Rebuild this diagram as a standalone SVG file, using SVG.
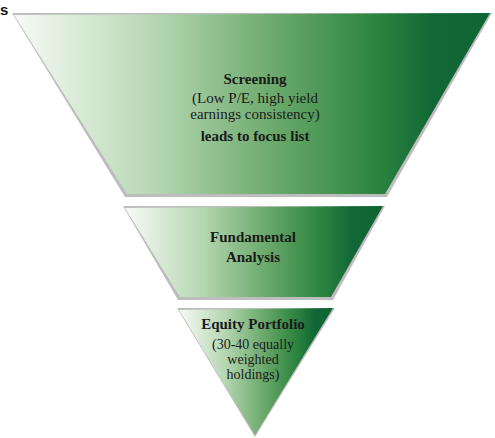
<svg xmlns="http://www.w3.org/2000/svg" width="495" height="438" viewBox="0 0 495 438">
<defs>
<linearGradient id="g" x1="0" y1="0" x2="1" y2="0">
<stop offset="0" stop-color="#f7fbf6"/>
<stop offset="0.3" stop-color="#b5d6b1"/>
<stop offset="0.55" stop-color="#6aa96b"/>
<stop offset="0.75" stop-color="#2f8640"/>
<stop offset="0.88" stop-color="#116836"/>
<stop offset="1" stop-color="#0f6434"/>
</linearGradient>
</defs>
<style>
.shadow{fill:#bdbdbd}
.shape{fill:url(#g)}
.t{font-family:"Liberation Serif","Times New Roman",serif;font-size:15px;fill:#1a1a1a;text-anchor:middle}
.s{font-size:14px}
.b{font-weight:bold}
</style>
<text x="0" y="15" font-family="Liberation Sans, Arial, sans-serif" font-weight="bold" font-size="15" fill="#111">s</text>
<g id="screening">
<polygon class="shadow" points="12,13 492,13 387,197 125,197"/>
<polygon class="shape" points="14,15 490,13 385,194 127,194"/>
<text class="t b" x="255" y="84">Screening</text>
<text class="t" x="255" y="103">(Low P/E, high yield</text>
<text class="t" x="255" y="119">earnings consistency)</text>
<text class="t b" x="255" y="141">leads to focus list</text>
</g>
<g id="fundamental">
<polygon class="shadow" points="123,206 385,206 333,300 178,300"/>
<polygon class="shape" points="125,208 383,206 331,297 180,297"/>
<text class="t b" x="253" y="242">Fundamental</text>
<text class="t b" x="253" y="262">Analysis</text>
</g>
<g id="portfolio">
<polygon class="shadow" points="177,308 335,308 255,437"/>
<polygon class="shape" points="179,310 333,308 255,435"/>
<text class="t b" x="253" y="329">Equity Portfolio</text>
<text class="t s" x="253" y="349">(30-40 equally</text>
<text class="t s" x="253" y="364">weighted</text>
<text class="t s" x="253" y="379">holdings)</text>
</g>
<g id="connectors"></g>
</svg>
